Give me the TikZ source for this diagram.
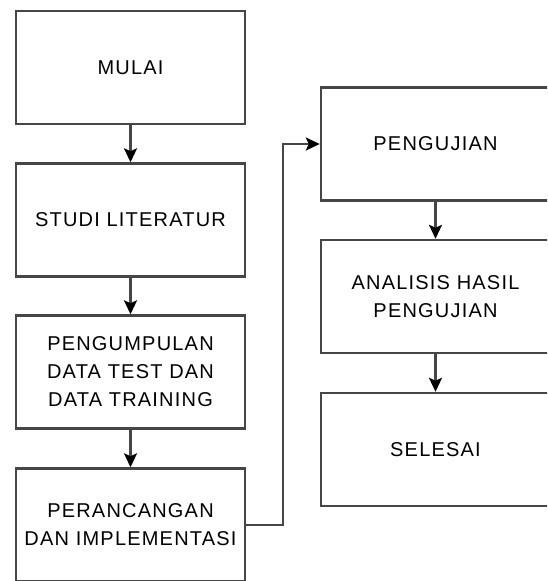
\documentclass[tikz,border=0pt]{standalone}
\usepackage{fontspec}
\newfontfamily\boxfont{Liberation Sans}[LetterSpace=6]
\usetikzlibrary{arrows.meta}
\definecolor{linegray}{RGB}{70,70,70}
\begin{document}
\begin{tikzpicture}[x=1pt,y=-1pt,main node/.style={rectangle,draw=linegray,line width=2.4pt,minimum width=229pt,minimum height=113pt,align=center,font=\boxfont\fontsize{20}{28}\selectfont},
    flow/.style={draw=linegray,line width=2.4pt,-{Stealth[length=14pt,width=13pt,inset=3pt,color=black]}}]
                \useasboundingbox (0,0) rectangle (547,581);
                \clip (0,0) rectangle (547,581);

                \node[main node] at (130.5, 67.5) (mulai) {MULAI};
                \node[main node] at (130.5, 220) (studi) {STUDI LITERATUR};
                \node[main node] at (130.5, 372) (kumpul) {PENGUMPULAN\\DATA TEST DAN\\DATA TRAINING};
                \node[main node] at (130.5, 525) (rancang) {PERANCANGAN\\DAN IMPLEMENTASI};

                \node[main node] at (435.5, 144) (uji) {PENGUJIAN};
                \node[main node] at (435.5, 296.5) (analisis) {ANALISIS HASIL\\PENGUJIAN};
                \node[main node] at (435.5, 449.5) (selesai) {SELESAI};

                \path[every edge/.style={flow}]
					(mulai) edge (studi)
					(studi) edge (kumpul)
					(kumpul) edge (rancang)
					(uji) edge (analisis)
					(analisis) edge (selesai)
                    ;
                \draw[flow] (rancang.east) -- ++(37,0) |- (uji.west);
            \end{tikzpicture}
\end{document}
